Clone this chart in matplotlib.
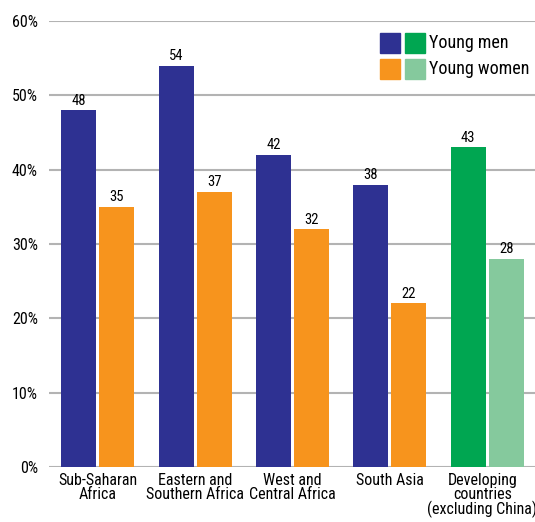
import numpy as np
import matplotlib.pyplot as plt
from matplotlib.patches import Rectangle
from matplotlib.transforms import ScaledTranslation

plt.rcParams['font.family'] = ['Roboto Condensed', 'DejaVu Sans']

regions = ['Sub-Saharan\nAfrica', 'Eastern and\nSouthern Africa', 'West and\nCentral Africa',
           'South Asia', 'Developing\ncountries\n(excluding China)']
young_men = [48, 54, 42, 38, 43]
young_women = [35, 37, 32, 22, 28]
yticks = [0, 10, 20, 30, 40, 50, 60]

blue, orange = '#2e3192', '#f7941d'
green, lgreen = '#00a651', '#85c99d'
men_colors = [blue] * 4 + [green]
women_colors = [orange] * 4 + [lgreen]

W, H = 535, 522
fig = plt.figure(figsize=(W / 100, H / 100), dpi=100)
ax = fig.add_axes([49 / W, 1 - 467 / H, 486 / W, 446 / H])

x = np.arange(len(regions))
w = 0.36
off = 0.195
b1 = ax.bar(x - off, young_men, w, color=men_colors, zorder=3)
b2 = ax.bar(x + off, young_women, w, color=women_colors, zorder=3)

for bars, vals in ((b1, young_men), (b2, young_women)):
    for r, v in zip(bars, vals):
        ax.text(r.get_x() + r.get_width() / 2, v + 0.35, str(v),
                ha='center', va='bottom', fontsize=10.5)

ax.set_xlim(-0.5, 4.49)
ax.set_ylim(0, 60)
ax.set_yticks(yticks)
ax.set_yticklabels([f'{t}%' for t in yticks], fontsize=11.5)
ax.set_xticks(x)
ax.set_xticklabels(regions, fontsize=11.5, linespacing=0.92)
ax.tick_params(axis='both', length=0)
ax.tick_params(axis='y', pad=8)
ax.tick_params(axis='x', pad=4)
ax.yaxis.grid(True, color='#b3b3b3', linewidth=1.5, zorder=0)
ax.set_axisbelow(True)
for s in ax.spines.values():
    s.set_visible(False)

# nudge the last (widest) label so it stays inside the figure
last = ax.get_xticklabels()[-1]
last.set_transform(last.get_transform() + ScaledTranslation(-5 / 100, 0, fig.dpi_scale_trans))

# legend: two swatches per row, drawn in figure pixels
legend_rows = [((blue, green), 'Young men', 33), ((orange, lgreen), 'Young women', 59)]
for (c1, c2), label, top in legend_rows:
    for cx, c in ((380, c1), (405, c2)):
        fig.add_artist(Rectangle((cx / W, 1 - (top + 20) / H), 20 / W, 20 / H,
                                 color=c, transform=fig.transFigure))
    fig.text(429 / W, 1 - (top + 10) / H, label, fontsize=13, va='center', ha='left')

fig.savefig('out.png', dpi=100, facecolor='white')
